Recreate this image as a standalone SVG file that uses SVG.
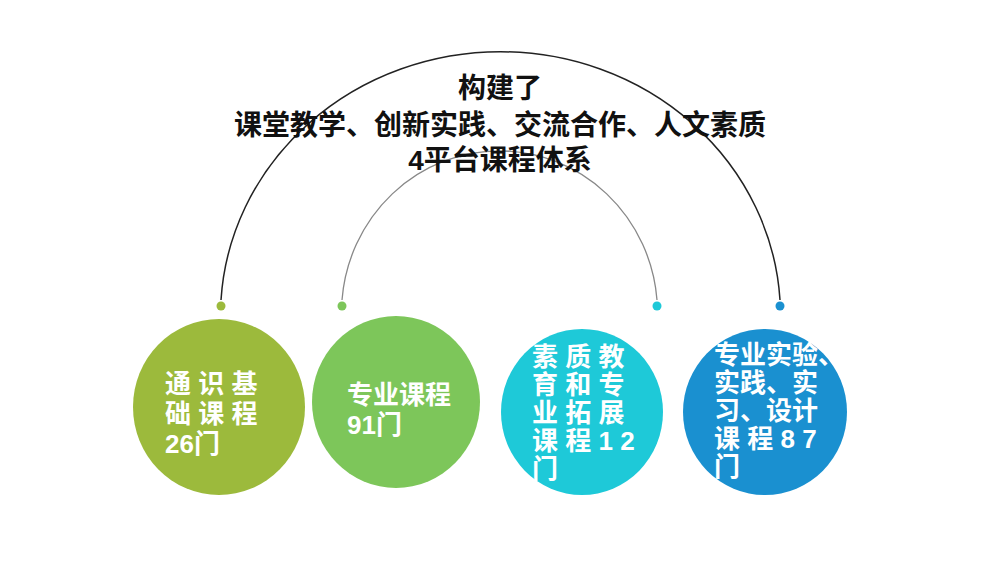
<svg xmlns="http://www.w3.org/2000/svg" width="1000" height="562" viewBox="0 0 1000 562">
<style>
.t{font-family:"Liberation Sans","Noto Sans CJK SC",sans-serif;font-weight:bold;}
.ti{font-size:28px;fill:#111;text-anchor:middle;}
.c{font-size:26px;fill:#fff;}
</style>
<rect width="1000" height="562" fill="#fff"/>
<g id="connectors" fill="none">
<path d="M221,300 A280,264 0 0 1 780,300" stroke="#222" stroke-width="1.5"/>
<path d="M342,300 A158,162 0 0 1 657,300" stroke="#888" stroke-width="1.3"/>
<circle cx="221" cy="306" r="4.5" fill="#9cba3c"/>
<circle cx="342" cy="306" r="4.5" fill="#7dc65a"/>
<circle cx="657" cy="306" r="4.5" fill="#1ec9d8"/>
<circle cx="780" cy="306" r="4.5" fill="#1a90d0"/>
</g>
<g id="title" class="t ti">
<text x="500" y="98">构建了</text>
<text x="500" y="135">课堂教学、创新实践、交流合作、人文素质</text>
<text x="500" y="170">4平台课程体系</text>
</g>
<g id="n1"><ellipse cx="219" cy="407" rx="86" ry="88" fill="#9cba3c"/>
<text class="t c" x="165" y="393">通 识 基</text><text class="t c" x="165" y="423">础 课 程</text><text class="t c" x="165" y="453">26门</text></g>
<g id="n2"><ellipse cx="396" cy="402" rx="84" ry="86" fill="#7dc65a"/>
<text class="t c" x="347" y="404">专业课程</text><text class="t c" x="347" y="434">91门</text></g>
<g id="n3"><ellipse cx="582" cy="412" rx="81" ry="83" fill="#1ec9d8"/>
<text class="t c" x="532" y="366">素 质 教</text><text class="t c" x="532" y="394">育 和 专</text><text class="t c" x="532" y="422">业 拓 展</text><text class="t c" x="532" y="450">课 程 1 2</text><text class="t c" x="532" y="478">门</text></g>
<g id="n4"><ellipse cx="765" cy="412" rx="82" ry="83" fill="#1a90d0"/>
<text class="t c" x="714" y="364">专业实验、</text><text class="t c" x="714" y="392">实践、实</text><text class="t c" x="714" y="420">习、设计</text><text class="t c" x="714" y="448">课 程 8 7</text><text class="t c" x="714" y="476">门</text></g>
</svg>
